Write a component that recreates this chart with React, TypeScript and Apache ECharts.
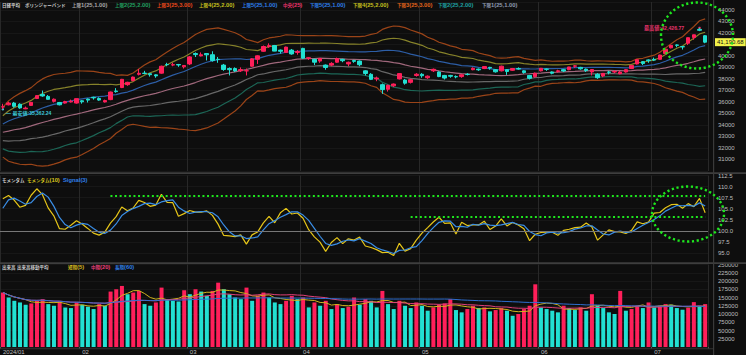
import React, { useEffect, useRef } from "react";
import * as echarts from "echarts";

// ---------- data ----------
const dates = [
  "2024/01/12","2024/01/15","2024/01/16","2024/01/17","2024/01/18","2024/01/19","2024/01/22","2024/01/23","2024/01/24","2024/01/25","2024/01/26","2024/01/29","2024/01/30","2024/01/31",
  "2024/02/01","2024/02/02","2024/02/05","2024/02/06","2024/02/07","2024/02/08","2024/02/09","2024/02/13","2024/02/14","2024/02/15","2024/02/16","2024/02/19","2024/02/20","2024/02/21","2024/02/22","2024/02/26","2024/02/27","2024/02/28","2024/02/29",
  "2024/03/01","2024/03/04","2024/03/05","2024/03/06","2024/03/07","2024/03/08","2024/03/11","2024/03/12","2024/03/13","2024/03/14","2024/03/15","2024/03/18","2024/03/19","2024/03/21","2024/03/22","2024/03/25","2024/03/26","2024/03/27","2024/03/28","2024/03/29",
  "2024/04/01","2024/04/02","2024/04/03","2024/04/04","2024/04/05","2024/04/08","2024/04/09","2024/04/10","2024/04/11","2024/04/12","2024/04/15","2024/04/16","2024/04/17","2024/04/18","2024/04/19","2024/04/22","2024/04/23","2024/04/24","2024/04/25","2024/04/26","2024/04/30",
  "2024/05/01","2024/05/02","2024/05/07","2024/05/08","2024/05/09","2024/05/10","2024/05/13","2024/05/14","2024/05/15","2024/05/16","2024/05/17","2024/05/20","2024/05/21","2024/05/22","2024/05/23","2024/05/24","2024/05/27","2024/05/28","2024/05/29","2024/05/30","2024/05/31",
  "2024/06/03","2024/06/04","2024/06/05","2024/06/06","2024/06/07","2024/06/10","2024/06/11","2024/06/12","2024/06/13","2024/06/14","2024/06/17","2024/06/18","2024/06/19","2024/06/20","2024/06/21","2024/06/24","2024/06/25","2024/06/26","2024/06/27","2024/06/28",
  "2024/07/01","2024/07/02","2024/07/03","2024/07/04","2024/07/05","2024/07/08","2024/07/09","2024/07/10","2024/07/11","2024/07/12",
];

const opens = [
  35560, 35750, 35900, 35800, 35400, 35700, 36300, 36650, 36480, 36050, 35950, 35900, 36000, 35900,
  36100, 36250, 36400, 36300, 36000, 36200, 36950, 37250, 37500, 37850, 38400, 38500, 38450, 38350, 38500, 39250, 39200, 39250, 39050,
  39300, 40200, 40000, 40200, 40100, 39700, 39200, 38900, 38900, 38700, 38700, 39100, 39700, 40400, 40800, 40900, 40500, 40300, 40500, 40300,
  40650, 39800, 39700, 39550, 39200, 39200, 39450, 39700, 39300, 39600, 39550, 38700, 38400, 38000, 37500, 37100, 37400, 38000, 37900, 37700, 38300,
  38400, 38100, 38700, 38600, 38300, 38300, 38200, 38200, 38400, 38800, 38850, 38900, 39000, 38800, 38700, 38800, 38750, 38900, 38700, 38300, 38200,
  38700, 38850, 38600, 38650, 38800, 38800, 39100, 39000, 38850, 38600, 38400, 38250, 38600, 38600, 38450, 38600, 38900, 39300, 39500, 39650,
  39700, 39700, 40200, 40700, 40950, 40800, 41100, 41600, 42300, 41750,
];
const highs = [
  35839.65, 36008, 36000, 35880, 35600, 36000, 36600, 36985, 36600, 36300, 36000, 36100, 36200, 36300,
  36150, 36300, 36450, 36400, 36200, 36900, 37200, 38000, 37750, 38200, 38865, 38700, 38500, 38400, 39150, 39400, 39400, 39300, 39200,
  39990, 40300, 40300, 40250, 40400, 39900, 39300, 39000, 39000, 39000, 38900, 39800, 40050, 40900, 41087, 40950, 40550, 40800, 40600, 40500,
  40700, 39900, 39750, 39800, 39250, 39450, 39850, 39750, 39500, 39650, 39600, 38750, 38500, 38200, 37600, 37500, 37600, 38500, 38000, 38000, 38500,
  38500, 38300, 38900, 38650, 38350, 38350, 38300, 38400, 38500, 39000, 38900, 39100, 39050, 38850, 39150, 38850, 38950, 39000, 38750, 38350, 38550,
  38950, 38900, 38650, 38800, 38850, 39050, 39200, 39050, 38900, 38850, 38500, 38500, 38700, 38750, 38700, 38850, 39200, 39700, 39550, 39700,
  39850, 40100, 40600, 40960, 41000, 40850, 41600, 41850, 42426.77, 41800,
];
const lows = [
  35362.24, 35700, 35500, 35400, 35370, 35650, 36250, 36450, 36200, 35950, 35700, 35850, 35950, 35850,
  35850, 35950, 36200, 36100, 35950, 36150, 36800, 37200, 37400, 37800, 38300, 38400, 38200, 38100, 38450, 39100, 39100, 39050, 38900,
  39200, 39900, 39950, 39600, 39500, 39400, 38700, 38300, 38600, 38600, 38300, 39050, 39300, 40350, 40700, 40400, 40200, 40300, 40100, 40100,
  39750, 39650, 39200, 39400, 38800, 39100, 39400, 39450, 39100, 39400, 39100, 38300, 37900, 37800, 36700, 36900, 37300, 37950, 37500, 37600, 38200,
  38100, 38000, 38600, 38150, 37950, 38100, 38050, 38100, 38300, 38750, 38700, 38850, 38800, 38550, 38650, 38350, 38700, 38800, 38450, 37950, 38100,
  38650, 38700, 38400, 38550, 38600, 38750, 38950, 38800, 38600, 38300, 38000, 38150, 38400, 38500, 38400, 38550, 38850, 39250, 39200, 39400,
  39550, 39650, 40150, 40650, 40750, 40550, 40950, 41400, 42150, 41100,
];
const closes = [
  35577.11, 35901.79, 35619.18, 35477.75, 35466.17, 35963.27, 36546.95, 36517.57, 36226.48, 36236.47, 35751.07, 36026.94, 36065.86, 36286.71,
  36011.46, 36158.02, 36354.16, 36160.66, 36119.92, 36863.28, 36897.42, 37963.97, 37703.32, 38157.94, 38487.24, 38470.38, 38363.61, 38262.16, 39098.68, 39233.71, 39239.52, 39208.03, 39166.19,
  39910.82, 40109.23, 40097.63, 40090.78, 39598.71, 39688.94, 38820.49, 38797.51, 38695.97, 38807.38, 38707.64, 39740.44, 40003.6, 40815.66, 40888.43, 40414.12, 40398.03, 40762.73, 40168.07, 40369.44,
  39803.09, 39838.91, 39451.85, 39773.13, 38992.08, 39347.04, 39773.14, 39581.81, 39442.63, 39523.55, 39232.8, 38471.2, 37961.8, 38079.7, 37068.35, 37438.61, 37552.16, 38460.08, 37628.48, 37934.76, 38405.66,
  38274.05, 38236.07, 38835.1, 38202.37, 38073.98, 38229.11, 38179.46, 38356.06, 38385.73, 38920.26, 38787.38, 39069.68, 38946.93, 38617.1, 39103.22, 38646.11, 38900.02, 38855.37, 38556.87, 38054.13, 38487.9,
  38923.03, 38837.46, 38490.17, 38703.51, 38683.93, 39038.16, 39134.79, 38876.71, 38720.47, 38814.56, 38102.44, 38482.11, 38570.76, 38633.02, 38596.47, 38804.65, 39173.15, 39667.07, 39341.54, 39583.08,
  39631.06, 40074.69, 40580.76, 40913.65, 40912.37, 40780.7, 41580.17, 41831.99, 42224.02, 41190.68,
];
// closes of the 24 sessions before the first visible day (for the 25-day bands and 10-day momentum)
const priorCloses = [
  33231, 32775, 33445, 32858, 32307, 32791, 32843, 32926, 32686, 32970, 32758, 33219,
  33675, 33140, 33169, 33254, 33305, 33681, 33539, 33288, 33377, 33763, 34441, 35049,
];
const volumes = [
  165000, 150000, 140000, 135000, 128000, 132000, 140000, 145000, 130000, 125000, 138000, 120000, 118000, 135000,
  128000, 122000, 115000, 130000, 125000, 168000, 175000, 185000, 160000, 165000, 170000, 130000, 125000, 135000, 180000, 145000, 140000, 138000, 172000,
  160000, 175000, 168000, 155000, 170000, 195000, 175000, 160000, 150000, 145000, 180000, 140000, 155000, 165000, 150000, 135000, 130000, 140000, 155000, 145000,
  150000, 120000, 135000, 125000, 140000, 115000, 130000, 118000, 122000, 150000, 128000, 145000, 140000, 120000, 170000, 130000, 115000, 140000, 125000, 118000, 135000,
  125000, 110000, 120000, 128000, 132000, 145000, 112000, 105000, 115000, 125000, 118000, 120000, 108000, 112000, 118000, 110000, 95000, 100000, 115000, 125000, 190000,
  120000, 115000, 110000, 105000, 125000, 118000, 112000, 120000, 110000, 160000, 125000, 118000, 105000, 100000, 170000, 110000, 115000, 125000, 118000, 135000,
  120000, 125000, 130000, 128000, 118000, 113000, 119000, 136000, 125000, 130000,
];
// hand-drawn annotation levels on the momentum pane
const dottedLevels = [
  { value: 107.85, from: 19 },
  { value: 103.2, from: 72 },
];

// ---------- styles ----------
const UP = "#ff1f5a";
const DOWN = "#22e0d2";
const BG = "#0e0e0e";
const AXIS_TXT = "#bdbdbd";
const NUM_FONT = "Liberation Sans";
const CJK_FONT = '"Noto Sans CJK JP"';
const GREEN = "#1ee61e";

const topLegend: [string, number, string][] = [
  ["日経平均", 2, "#cfcfcf"],
  ["ボリンジャーバンド", 25, "#cfcfcf"],
  ["上限1(25,1.00)", 72, "#a8a8a8"],
  ["上限2(25,2.00)", 115, "#22a060"],
  ["上限3(25,3.00)", 157, "#e8491c"],
  ["上限4(25,2.00)", 199, "#c4c01e"],
  ["上限5(25,1.00)", 242, "#2f7fe8"],
  ["中央(25)", 283, "#e8336b"],
  ["下限5(25,1.00)", 310, "#2f7fe8"],
  ["下限4(25,2.00)", 353, "#c4c01e"],
  ["下限3(25,3.00)", 397, "#e0641c"],
  ["下限2(25,2.00)", 438, "#1fa0a0"],
  ["下限1(25,1.00)", 482, "#8f9bb0"],
];
const momLegend: [string, number, string][] = [
  ["モメンタム", 2, "#cfcfcf"],
  ["モメンタム(10)", 27, "#d8c41e"],
  ["Signal(3)", 63, "#2f7fe8"],
];
const volLegend: [string, number, string][] = [
  ["出来高", 2, "#cfcfcf"],
  ["出来高移動平均", 17, "#cfcfcf"],
  ["短期(5)", 68, "#d0b41e"],
  ["中期(20)", 91, "#e8407a"],
  ["長期(60)", 115, "#2f7fe8"],
];

const fmt2 = (v: number) =>
  v.toLocaleString("en-US", { minimumFractionDigits: 2, maximumFractionDigits: 2 });

const CJK_RE = /[\u3000-\u30ff\u4e00-\u9fff\uff00-\uffef]+|[^\u3000-\u30ff\u4e00-\u9fff\uff00-\uffef]+/g;
const toRich = (t: string) =>
  (t.match(CJK_RE) || [])
    .map((run) => (/[\u3000-\u30ff\u4e00-\u9fff\uff00-\uffef]/.test(run) ? `{c|${run}}` : `{a|${run}}`))
    .join("");

export default function App() {
  const ref = useRef<HTMLDivElement>(null);

  useEffect(() => {
    const el = ref.current;
    if (!el) return;
    const chart = echarts.init(el, null, { renderer: "svg" });

    const n = closes.length;
    const P = priorCloses.length;
    const all = [...priorCloses, ...closes];

    // Bollinger (25)
    const mid: number[] = [];
    const sd: number[] = [];
    for (let i = 0; i < n; i++) {
      const j = i + P;
      const w = all.slice(j - 24, j + 1);
      const m = w.reduce((a, b) => a + b, 0) / w.length;
      const v = w.reduce((a, b) => a + (b - m) * (b - m), 0) / w.length;
      mid.push(m);
      sd.push(Math.sqrt(v));
    }
    const band = (k: number) => mid.map((m, i) => +(m + k * sd[i]).toFixed(2));

    // Momentum (10) and signal (3)
    const momAll: (number | null)[] = all.map((c, j) => (j >= 10 ? (c / all[j - 10]) * 100 : null));
    const mom: number[] = [];
    const sig: number[] = [];
    for (let i = 0; i < n; i++) {
      const j = i + P;
      mom.push(+(momAll[j] as number).toFixed(3));
      sig.push(+(((momAll[j] as number) + (momAll[j - 1] as number) + (momAll[j - 2] as number)) / 3).toFixed(3));
    }

    // volume moving averages
    const vma = (len: number) =>
      volumes.map((_, i) => {
        const s = volumes.slice(Math.max(0, i - len + 1), i + 1);
        return Math.round(s.reduce((a, b) => a + b, 0) / s.length);
      });

    const monthStart = dates.map((d, i) => i === 0 || d.slice(5, 7) !== dates[i - 1].slice(5, 7));
    const showMonth = (i: number) => monthStart[i];

    let hiIdx = 0;
    let loIdx = 0;
    highs.forEach((h, i) => { if (h > highs[hiIdx]) hiIdx = i; });
    lows.forEach((l, i) => { if (l < lows[loIdx]) loIdx = i; });
    const last = closes[n - 1];

    const candleData = opens.map((o, i) => [o, closes[i], lows[i], highs[i]]);
    const volData = volumes.map((v, i) => {
      const up = i === 0 ? closes[0] >= opens[0] : v >= volumes[i - 1];
      return { value: v, itemStyle: { color: up ? UP : DOWN } };
    });

    const xAxis = [0, 1, 2].map((g) => ({
      type: "category",
      gridIndex: g,
      data: dates,
      boundaryGap: true,
      axisLine: { show: false },
      axisTick: { show: g === 2, interval: showMonth, length: 2, lineStyle: { color: "#555" } },
      axisLabel: {
        show: g === 2,
        interval: showMonth,
        formatter: (v: string, i: number) => (i === 0 ? v.slice(0, 7) : v.slice(5, 7)),
        color: AXIS_TXT,
        fontSize: 6,
        fontFamily: NUM_FONT,
        align: "left",
        margin: 2,
      },
      splitLine: { show: true, interval: showMonth, lineStyle: { color: "#282828", width: 1 } },
    }));

    const yCommon = {
      position: "right",
      offset: 5,
      axisLine: { show: false },
      axisTick: { show: false },
      splitLine: { show: true, lineStyle: { color: "#171717", width: 1 } },
    };

    const lineS = (name: string, data: number[], color: string, xi: number, width = 1.2) => ({
      name,
      type: "line",
      xAxisIndex: xi,
      yAxisIndex: xi,
      data,
      symbol: "none",
      silent: true,
      lineStyle: { color, width },
      z: 3,
    });

    const legendTexts = (items: [string, number, string][], y: number) =>
      items.map(([t, x, c]) => ({
        type: "text",
        x,
        y,
        z: 50,
        silent: true,
        style: {
          text: toRich(t),
          fill: c,
          verticalAlign: "middle",
          rich: {
            c: { fill: c, fontSize: 4.5, fontFamily: CJK_FONT, fontWeight: "bold" },
            a: { fill: c, fontSize: 5.8, fontFamily: NUM_FONT, fontWeight: "bold" },
          },
        },
      }));

    const option: any = {
      animation: false,
      backgroundColor: BG,
      grid: [
        { left: 0, right: 38, top: 2, height: 169 },
        { left: 0, right: 38, top: 175.5, height: 88.5 },
        { left: 0, right: 38, top: 264.5, height: 83.5 },
      ],
      xAxis,
      yAxis: [
        {
          ...yCommon,
          gridIndex: 0,
          min: 30000,
          max: 44680,
          interval: 1000,
          axisLabel: {
            color: AXIS_TXT, fontSize: 6, fontFamily: NUM_FONT, margin: 5,
            formatter: (v: number) =>
              v === 30000 || v % 1000 !== 0 || Math.abs(v - last) < 600 ? "" : String(v),
          },
        },
        {
          ...yCommon,
          gridIndex: 1,
          min: 92.5,
          max: 112.5,
          interval: 2.5,
          axisLabel: {
            color: AXIS_TXT, fontSize: 6, fontFamily: NUM_FONT, margin: 5,
            formatter: (v: number) => (v === 92.5 ? "" : v.toFixed(1)),
          },
        },
        {
          ...yCommon,
          gridIndex: 2,
          min: 0,
          max: 250000,
          interval: 25000,
          axisLabel: {
            color: AXIS_TXT, fontSize: 6, fontFamily: NUM_FONT, margin: 5,
            formatter: (v: number) => (v === 0 ? "" : String(v)),
          },
        },
      ],
      series: [
        lineS("上限3", band(3), "#9a4418", 0),
        lineS("上限2", band(2), "#86822a", 0),
        lineS("上限1", band(1), "#2d5ea6", 0),
        lineS("中央", mid.map((m) => +m.toFixed(2)), "#a0687c", 0),
        lineS("下限1", band(-1), "#686868", 0),
        lineS("下限2", band(-2), "#1c6656", 0),
        lineS("下限3", band(-3), "#9a4418", 0),
        {
          name: "日経平均",
          type: "candlestick",
          xAxisIndex: 0,
          yAxisIndex: 0,
          data: candleData,
          barWidth: 4,
          z: 5,
          itemStyle: { color: UP, color0: DOWN, borderColor: UP, borderColor0: DOWN, borderWidth: 1 },
          markPoint: {
            silent: true,
            symbol: "circle",
            symbolSize: 2.5,
            data: [
              {
                coord: [hiIdx, highs[hiIdx]],
                itemStyle: { color: "#e8336b" },
                label: {
                  show: true,
                  position: "left",
                  distance: 14,
                  formatter: "最高値:" + fmt2(highs[hiIdx]),
                  color: "#e8336b",
                  fontSize: 5.2,
                  fontFamily: '"Liberation Sans", "Noto Sans CJK JP"',
                  fontWeight: "bold",
                },
              },
              {
                coord: [loIdx, lows[loIdx]],
                itemStyle: { color: "#3cc8d8" },
                label: {
                  show: true,
                  position: "right",
                  distance: 2,
                  offset: [0, 4],
                  formatter: "— 最安値:" + fmt2(lows[loIdx]),
                  color: "#3cc8d8",
                  fontSize: 5,
                  fontFamily: '"Liberation Sans", "Noto Sans CJK JP"',
                  fontWeight: "bold",
                },
              },
            ],
          },
          markLine: {
            silent: true,
            symbol: ["none", "none"],
            lineStyle: { color: "rgba(0,0,0,0)", width: 1 },
            label: {
              show: true,
              position: "end",
              distance: 7,
              formatter: () => fmt2(last),
              backgroundColor: "#f2f24a",
              color: "#111",
              fontSize: 6,
              fontFamily: NUM_FONT,
              padding: [1, 2, 1, 2],
            },
            data: [{ yAxis: last }],
          },
        },
        {
          ...lineS("モメンタム(10)", mom, "#e6c619", 1, 1.2),
          markLine: {
            silent: true,
            symbol: ["none", "none"],
            label: { show: false },
            data: [
              { yAxis: 100, lineStyle: { color: "#777", width: 1, type: "solid" } },
              ...dottedLevels.map((d) => [
                { coord: [d.from, d.value], lineStyle: { color: GREEN, width: 2, type: [2, 2.6] } },
                { coord: [n - 1, d.value] },
              ]),
            ],
          },
        },
        lineS("Signal(3)", sig, "#3a8ee6", 1, 1.2),
        {
          name: "出来高",
          type: "bar",
          xAxisIndex: 2,
          yAxisIndex: 2,
          data: volData,
          barWidth: 4,
          silent: true,
          z: 2,
        },
        lineS("短期(5)", vma(5), "#d0b41e", 2, 1),
        lineS("中期(20)", vma(20), "#e0407a", 2, 1),
        lineS("長期(60)", vma(60), "#2f6fd0", 2, 1),
      ],
      graphic: [
        { type: "rect", shape: { x: 0, y: 172.3, width: 746, height: 1.6 }, style: { fill: "#3e3e3e" }, silent: true, z: 40 },
        { type: "rect", shape: { x: 0, y: 262.3, width: 746, height: 1.6 }, style: { fill: "#3e3e3e" }, silent: true, z: 40 },
        { type: "rect", shape: { x: 0, y: 348.3, width: 713, height: 1 }, style: { fill: "#333" }, silent: true, z: 40 },
        { type: "rect", shape: { x: 713, y: 0, width: 1.2, height: 355 }, style: { fill: "#3a3a3a" }, silent: true, z: 40 },
        {
          type: "ellipse",
          shape: { cx: 697, cy: 35.5, rx: 36, ry: 33 },
          style: { fill: "transparent", stroke: GREEN, lineWidth: 2.4, lineDash: [2.2, 2.6] },
          silent: true,
          z: 60,
        },
        {
          type: "ellipse",
          shape: { cx: 688, cy: 214, rx: 36, ry: 27.5 },
          style: { fill: "transparent", stroke: GREEN, lineWidth: 2.4, lineDash: [2.2, 2.6] },
          silent: true,
          z: 60,
        },
        ...legendTexts(topLegend, 5),
        ...legendTexts(momLegend, 179.7),
        ...legendTexts(volLegend, 267),
      ],
    };

    chart.setOption(option);
    return () => chart.dispose();
  }, []);

  return (
    <div
      ref={ref}
      style={{ position: "absolute", left: 0, top: 0, width: 746, height: 355, background: BG }}
    />
  );
}
